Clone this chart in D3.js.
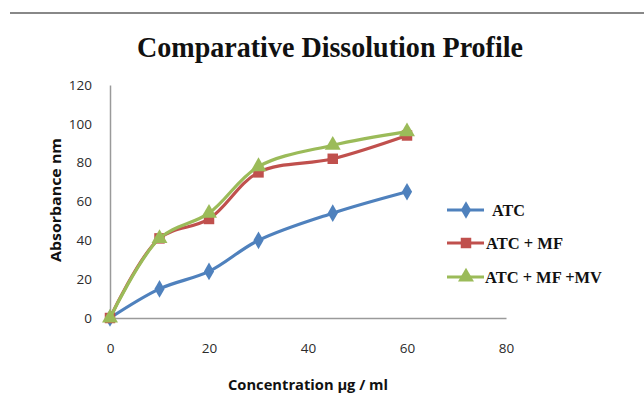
<!DOCTYPE html>
<html><head><meta charset="utf-8">
<script src="https://cdn.jsdelivr.net/npm/d3@7"></script>
<style>body{margin:0;background:#fff}svg{display:block}</style>
</head><body>
<script>
const xValues = [0, 10, 20, 30, 45, 60];
const atc = [0, 15, 24, 40, 54, 65];
const atcMF = [0, 41, 51, 75, 82, 94];
const atcMFMV = [0, 41, 54, 78, 89, 96];
const seriesNames = ["ATC", "ATC + MF", "ATC + MF +MV"];
const xTicks = [0, 20, 40, 60, 80];
const yTicks = [0, 20, 40, 60, 80, 100, 120];

const W = 644, H = 418;
const svg = d3.select("body").append("svg").attr("width", W).attr("height", H);

svg.append("line").attr("x1", 10).attr("x2", 644).attr("y1", 13).attr("y2", 13)
  .attr("stroke", "#888").attr("stroke-width", 2);

const x = d3.scaleLinear().domain([0, 80]).range([110, 506]);
const y = d3.scaleLinear().domain([0, 120]).range([318, 85]);

svg.append("text").attr("x", 330).attr("y", 57).attr("text-anchor", "middle")
  .attr("font-family", "Liberation Serif").attr("font-weight", "bold").attr("font-size", 29)
  .attr("fill", "#111").attr("textLength", 386).attr("lengthAdjust", "spacingAndGlyphs")
  .text("Comparative Dissolution Profile");

const tickFont = "Open Sans";
const yAxis = svg.append("g").attr("transform", "translate(110,0)")
  .call(d3.axisLeft(y).tickValues(yTicks).tickSize(0).tickPadding(18));
const xAxis = svg.append("g").attr("transform", "translate(0,318)")
  .call(d3.axisBottom(x).tickValues(xTicks).tickSize(0).tickPadding(25));
[yAxis, xAxis].forEach(g => {
  g.select(".domain").attr("stroke", "#9a9a9a").attr("stroke-width", 1.5);
  g.selectAll("text").attr("font-family", tickFont).attr("font-size", 13.5).attr("fill", "#2b2b2b");
});

svg.append("text").attr("transform", "translate(61,200) rotate(-90)").attr("text-anchor", "middle")
  .attr("font-family", tickFont).attr("font-weight", "bold").attr("font-size", 14).attr("fill", "#111")
  .attr("textLength", 124).attr("lengthAdjust", "spacingAndGlyphs")
  .text("Absorbance nm");
svg.append("text").attr("x", 308).attr("y", 390).attr("text-anchor", "middle")
  .attr("font-family", tickFont).attr("font-weight", "bold").attr("font-size", 15).attr("fill", "#111")
  .attr("textLength", 160).attr("lengthAdjust", "spacingAndGlyphs")
  .text("Concentration µg / ml");

const series = [
  {name: seriesNames[0], vals: atc, color: "#4F81BD", sym: d3.symbolDiamond, size: 90},
  {name: seriesNames[1], vals: atcMF, color: "#C0504D", sym: d3.symbolSquare, size: 110},
  {name: seriesNames[2], vals: atcMFMV, color: "#9BBB59", sym: d3.symbolTriangle, size: 110}
];

const line = d3.line().x(d => x(d[0])).y(d => y(d[1])).curve(d3.curveCatmullRom.alpha(0.5));
series.forEach(s => {
  const pts = xValues.map((v, i) => [v, s.vals[i]]);
  svg.append("path").attr("d", line(pts)).attr("fill", "none").attr("stroke", s.color).attr("stroke-width", 3.2);
  svg.selectAll(null).data(pts).enter().append("path")
    .attr("d", d3.symbol().type(s.sym).size(s.size))
    .attr("transform", d => `translate(${x(d[0])},${y(d[1])})`)
    .attr("fill", s.color);
});

const legY = [210, 243, 277];
const legX = [492, 486, 485];
const legLen = [33, 77, 117];
series.forEach((s, i) => {
  const g = svg.append("g").attr("transform", `translate(0,${legY[i]})`);
  g.append("line").attr("x1", 447).attr("x2", 484).attr("stroke", s.color).attr("stroke-width", 3);
  g.append("path").attr("d", d3.symbol().type(s.sym).size(s.size)).attr("transform", "translate(466,0)").attr("fill", s.color);
  g.append("text").attr("x", legX[i]).attr("y", 5.5).attr("font-family", "Liberation Serif")
    .attr("font-weight", "bold").attr("font-size", 17).attr("fill", "#111")
    .attr("textLength", legLen[i]).attr("lengthAdjust", "spacingAndGlyphs").text(s.name);
});
</script>
</body></html>
